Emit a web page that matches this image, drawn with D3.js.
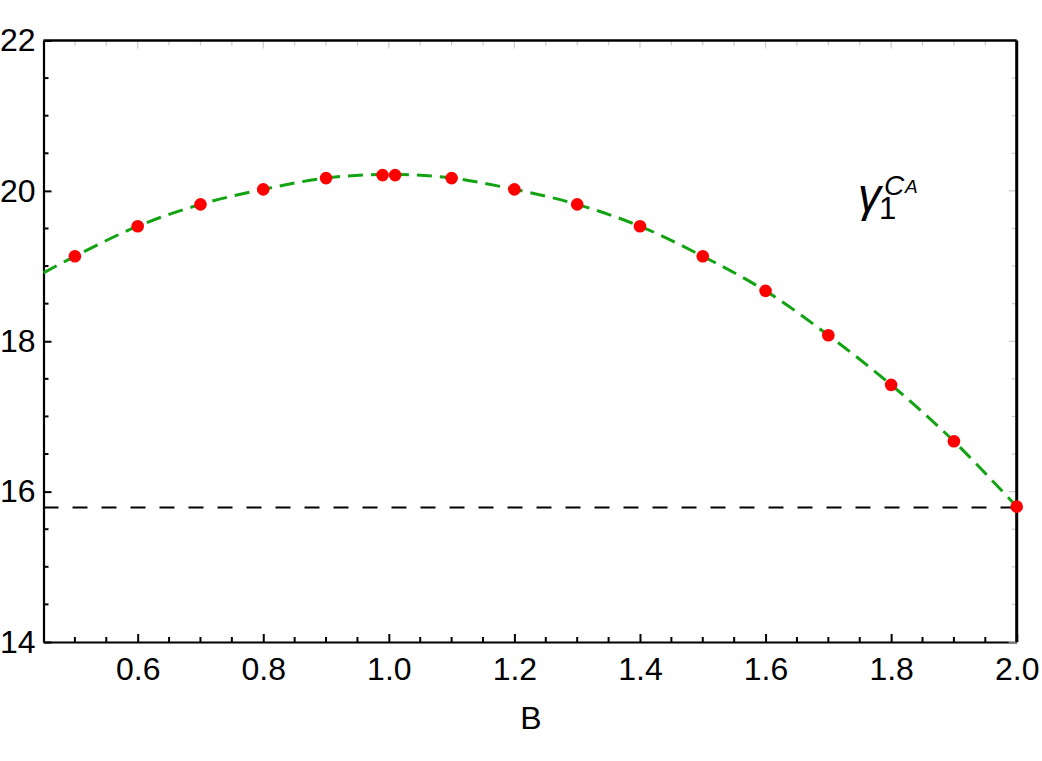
<!DOCTYPE html>
<html>
<head>
<meta charset="utf-8">
<script src="https://cdn.jsdelivr.net/npm/d3@7"></script>
<style>
    body { margin: 0; background: #fff; }
    #chart { width: 1042px; height: 761px; }
    text { font-family: "Liberation Sans", Arial, sans-serif; }
</style>
</head>
<body>
<div id="chart"></div>
<script>
// sampled points (red dots)
const pointB = [0.5, 0.6, 0.7, 0.8, 0.9, 0.99, 1.01, 1.1, 1.2, 1.3, 1.4, 1.5, 1.6, 1.7, 1.8, 1.9, 2.0];
const pointGamma = [19.13, 19.53, 19.82, 20.02, 20.17, 20.21, 20.21, 20.17, 20.02, 19.82, 19.53, 19.13, 18.67, 18.08, 17.42, 16.67, 15.80];

// fitted curve (green dashed)
const curveB = [0.45, 0.5, 0.6, 0.7, 0.8, 0.9, 1.0, 1.1, 1.2, 1.3, 1.4, 1.5, 1.6, 1.7, 1.8, 1.9, 2.0];
const curveGamma = [18.91, 19.13, 19.53, 19.82, 20.02, 20.17, 20.22, 20.17, 20.02, 19.82, 19.53, 19.13, 18.67, 18.08, 17.42, 16.67, 15.80];

// horizontal reference level
const refLevel = 15.79;

const xTicks = [0.6, 0.8, 1.0, 1.2, 1.4, 1.6, 1.8, 2.0];
const yTicks = [14, 16, 18, 20, 22];

class GammaChart {
    constructor(parentElement) {
        this.parentElement = parentElement;
        this.initVis();
    }

    initVis() {
        let vis = this;

        vis.margin = {top: 40.5, right: 25.3, bottom: 119, left: 43.5};
        vis.width = 1042 - vis.margin.left - vis.margin.right;
        vis.height = 761 - vis.margin.top - vis.margin.bottom;

        vis.root = d3.select("#" + vis.parentElement).append("svg")
            .attr("width", 1042)
            .attr("height", 761);
        vis.svg = vis.root.append("g")
            .attr("transform", `translate(${vis.margin.left}, ${vis.margin.top})`);

        vis.x = d3.scaleLinear().domain([0.45, 2.0]).range([0, vis.width]);
        vis.y = d3.scaleLinear().domain([14, 22]).range([vis.height, 0]);

        vis.drawAxes();
        vis.drawData();
    }

    drawAxes() {
        let vis = this;
        let xMinor = d3.range(0.5, 2.0001, 0.05).map(d => +d.toFixed(2)).filter(d => !xTicks.some(t => Math.abs(t - d) < 1e-6));
        let yMinor = d3.range(14, 22.001, 0.5).filter(d => !yTicks.includes(d));

        // bottom axis
        let bottom = vis.svg.append("g")
            .attr("transform", `translate(0, ${vis.height})`)
            .call(d3.axisBottom(vis.x).tickValues(xTicks).tickFormat(d3.format(".1f"))
                .tickSizeInner(-8).tickSizeOuter(0).tickPadding(15));
        bottom.append("g").selectAll("line").data(xMinor).enter().append("line")
            .attr("x1", d => vis.x(d)).attr("x2", d => vis.x(d))
            .attr("y1", 0).attr("y2", -5).attr("stroke", "#000").attr("stroke-width", 2);

        // left axis
        let left = vis.svg.append("g")
            .call(d3.axisLeft(vis.y).tickValues(yTicks).tickFormat(d3.format("d"))
                .tickSizeInner(-8).tickSizeOuter(0).tickPadding(8));
        left.append("g").selectAll("line").data(yMinor).enter().append("line")
            .attr("y1", d => vis.y(d)).attr("y2", d => vis.y(d))
            .attr("x1", 0).attr("x2", 5).attr("stroke", "#000").attr("stroke-width", 2);

        [bottom, left].forEach(g => {
            g.select(".domain").attr("stroke-width", 2.2);
            g.selectAll(".tick line").attr("stroke-width", 2);
            g.selectAll(".tick text").attr("font-size", 32).attr("fill", "#000")
                .attr("font-family", "'Liberation Sans', Arial, sans-serif");
        });

        // faint ticks on top and right
        let top = vis.svg.append("g");
        top.selectAll("line").data(xTicks.concat(xMinor)).enter().append("line")
            .attr("x1", d => vis.x(d)).attr("x2", d => vis.x(d))
            .attr("y1", 0).attr("y2", d => xTicks.includes(d) ? 8 : 5)
            .attr("stroke", "#ccc").attr("stroke-width", 1.2);
        let right = vis.svg.append("g");
        right.selectAll("line").data(yTicks.concat(yMinor)).enter().append("line")
            .attr("y1", d => vis.y(d)).attr("y2", d => vis.y(d))
            .attr("x1", vis.width).attr("x2", d => vis.width - (yTicks.includes(d) ? 8 : 5))
            .attr("stroke", "#ccc").attr("stroke-width", 1.2);

        vis.svg.append("line")
            .attr("x1", 0).attr("x2", vis.width).attr("y1", 0).attr("y2", 0)
            .attr("stroke", "#000").attr("stroke-width", 2.4);
        vis.svg.append("line")
            .attr("x1", vis.width).attr("x2", vis.width).attr("y1", 0).attr("y2", vis.height)
            .attr("stroke", "#000").attr("stroke-width", 3);

        // axis title
        vis.root.append("text")
            .attr("x", 531).attr("y", 729)
            .attr("text-anchor", "middle")
            .attr("font-size", 32)
            .text("B");
    }

    drawData() {
        let vis = this;

        vis.svg.append("line")
            .attr("x1", 0).attr("x2", vis.width)
            .attr("y1", vis.y(refLevel)).attr("y2", vis.y(refLevel))
            .attr("stroke", "#000").attr("stroke-width", 2)
            .attr("stroke-dasharray", "15,14");

        let line = d3.line()
            .x((d, i) => vis.x(curveB[i]))
            .y(d => vis.y(d))
            .curve(d3.curveCatmullRom);

        vis.svg.append("path")
            .datum(curveGamma)
            .attr("d", line)
            .attr("fill", "none")
            .attr("stroke", "#12a312")
            .attr("stroke-width", 3)
            .attr("stroke-dasharray", "15,8");

        vis.svg.append("g").selectAll("circle")
            .data(pointGamma)
            .enter().append("circle")
            .attr("cx", (d, i) => vis.x(pointB[i]))
            .attr("cy", d => vis.y(d))
            .attr("r", 6.3)
            .attr("fill", "#ff0000");

        // curve label: gamma_1^{C_A}
        let label = vis.root.append("text").attr("fill", "#000");
        label.append("tspan").attr("x", 858).attr("y", 211)
            .attr("font-size", 46).attr("font-style", "italic").text("γ");
        label.append("tspan").attr("x", 879).attr("y", 219)
            .attr("font-size", 31).text("1");
        label.append("tspan").attr("x", 884).attr("y", 195)
            .attr("font-size", 28).attr("font-style", "italic").text("C");
        label.append("tspan").attr("x", 905).attr("y", 193)
            .attr("font-size", 19).attr("font-style", "italic").text("A");
    }
}

new GammaChart("chart");
</script>
</body>
</html>
